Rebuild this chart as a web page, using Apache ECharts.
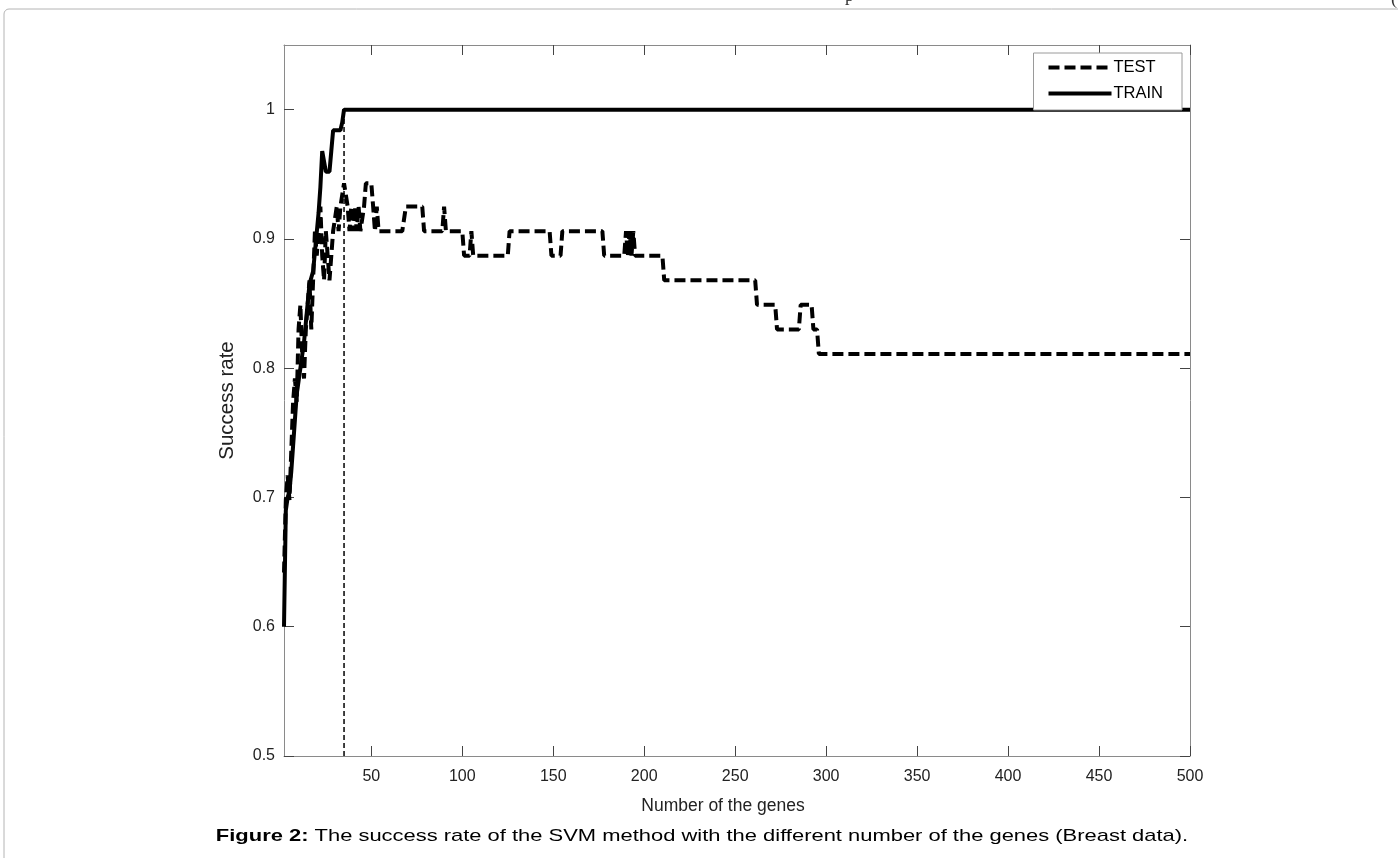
<!DOCTYPE html>
<html>
<head>
<meta charset="utf-8">
<script src="https://cdn.jsdelivr.net/npm/echarts@6/dist/echarts.min.js"></script>
<style>
html, body { margin: 0; padding: 0; background: #fff; }
#main { width: 1398px; height: 858px; }
</style>
</head>
<body>
<div id="main"></div>
<script>
// axis ticks
var xTicks = [50, 100, 150, 200, 250, 300, 350, 400, 450, 500];
var yTicks = [0.5, 0.6, 0.7, 0.8, 0.9, 1];

// TEST success rate (number of genes, rate)
var testPts = [
	[2, 0.642], [3, 0.698], [4, 0.717], [5, 0.698], [6, 0.736], [7, 0.774], [8, 0.792], [9, 0.774],
	[10, 0.830], [11, 0.849], [12, 0.811], [13, 0.792], [14, 0.830], [15, 0.849], [16, 0.868], [17, 0.830],
	[18, 0.868], [19, 0.906], [20, 0.887], [21, 0.906], [22, 0.925], [23, 0.887], [24, 0.868], [25, 0.906],
	[26, 0.887], [27, 0.868], [28, 0.887], [29, 0.906], [30, 0.906], [31, 0.925], [32, 0.906], [33, 0.925],
	[34, 0.925], [35, 0.943], [36, 0.943], [37, 0.925], [38, 0.906], [39, 0.925], [40, 0.906], [41, 0.925],
	[42, 0.906], [43, 0.925], [44, 0.906], [45, 0.906], [46, 0.925], [47, 0.943], [50, 0.943], [51, 0.925],
	[52, 0.906], [53, 0.925], [54, 0.906], [67, 0.906], [69, 0.925], [78, 0.925], [79, 0.906], [89, 0.906],
	[90, 0.925], [91, 0.906], [100, 0.906], [101, 0.887], [104, 0.887], [105, 0.906], [106, 0.887], [125, 0.887],
	[126, 0.906], [148, 0.906], [149, 0.887], [154, 0.887], [155, 0.906], [177, 0.906], [178, 0.887], [189, 0.887],
	[190, 0.906], [191, 0.887], [192, 0.906], [193, 0.887], [194, 0.906], [195, 0.887], [210, 0.887], [211, 0.868],
	[261, 0.868], [262, 0.849], [272, 0.849], [273, 0.830], [285, 0.830], [286, 0.849], [292, 0.849], [293, 0.830],
	[295, 0.830], [296, 0.811], [500, 0.811]
];

// TRAIN success rate
var trainPts = [
	[2, 0.600], [3, 0.690], [4, 0.700], [5, 0.705], [6, 0.720], [7, 0.740], [8, 0.760], [9, 0.780],
	[10, 0.790], [11, 0.800], [12, 0.810], [13, 0.820], [14, 0.835], [15, 0.850], [16, 0.865], [17, 0.870],
	[18, 0.875], [19, 0.890], [20, 0.905], [21, 0.920], [22, 0.940], [23, 0.968], [24, 0.968], [25, 0.952],
	[26, 0.952], [27, 0.952], [28, 0.968], [29, 0.984], [33, 0.984], [34, 0.990], [35, 1.000], [500, 1.000]
];

// marker where TRAIN first reaches 1
var cutLine = [[35, 0.5], [35, 1]];

var fontName = 'Liberation Sans';
var axisGray = '#8a8a8a';

var chart = echarts.init(document.getElementById('main'));
var option = {
	backgroundColor: '#fff',
	animation: false,
	graphic: [
		{
			// page frame
			type: 'rect',
			shape: { x: 4, y: 9, width: 1420, height: 900, r: 5 },
			style: { fill: null, stroke: '#b4b4b4', lineWidth: 1 },
			silent: true
		},
		{
			type: 'text',
			x: 845, y: -13,
			style: { text: 'p', font: '18px "Liberation Serif"', fill: '#333' },
			silent: true
		},
		{
			type: 'text',
			x: 1391, y: -10,
			style: { text: '(', font: '18px "Liberation Serif"', fill: '#333' },
			silent: true
		},
		{
			// caption
			type: 'text',
			x: 702, y: 836,
			scaleX: 1.29,
			style: {
				text: '{b|Figure 2:} The success rate of the SVM method with the different number of the genes (Breast data).',
				align: 'center',
				verticalAlign: 'middle',
				font: '17px "Liberation Sans"',
				fill: '#000',
				rich: {
					b: { font: 'bold 17px "Liberation Sans"', fill: '#000' }
				}
			},
			silent: true
		}
	],
	legend: {
		data: ['TEST', 'TRAIN'],
		orient: 'vertical',
		right: 216,
		top: 53,
		itemWidth: 63,
		itemHeight: 14,
		itemGap: 9,
		padding: [6, 19, 8, 13],
		backgroundColor: '#fff',
		borderColor: '#9a9a9a',
		borderWidth: 1,
		borderRadius: 0,
		itemStyle: { opacity: 0 },
		lineStyle: { width: 4 },
		textStyle: { fontFamily: fontName, fontSize: 16.5, lineHeight: 14, color: '#000', padding: [0, 0, 0, -3] }
	},
	grid: { left: 284, right: 208, top: 45, bottom: 102, containLabel: false },
	xAxis: [
		{
			type: 'value',
			min: 2,
			max: 500,
			name: 'Number of the genes',
			nameLocation: 'middle',
			nameGap: 41,
			nameTextStyle: { fontFamily: fontName, fontSize: 17.5, color: '#222', padding: [0, 28, 0, 0] },
			axisLine: { show: true, lineStyle: { color: axisGray, width: 1 } },
			axisTick: { show: true, inside: true, length: 10, customValues: xTicks, lineStyle: { color: '#444' } },
			axisLabel: { customValues: xTicks, margin: 13, fontFamily: fontName, fontSize: 16, color: '#222' },
			splitLine: { show: false }
		},
		{
			type: 'value',
			position: 'top',
			min: 2,
			max: 500,
			axisLine: { show: true, lineStyle: { color: axisGray, width: 1 } },
			axisTick: { show: true, inside: true, length: 10, customValues: xTicks, lineStyle: { color: '#444' } },
			axisLabel: { show: false },
			splitLine: { show: false }
		}
	],
	yAxis: [
		{
			type: 'value',
			min: 0.5,
			max: 1.05,
			name: 'Success rate',
			nameLocation: 'middle',
			nameGap: 46,
			nameTextStyle: { fontFamily: fontName, fontSize: 20.5, color: '#222' },
			axisLine: { show: true, lineStyle: { color: axisGray, width: 1 } },
			axisTick: { show: true, inside: true, length: 10, customValues: yTicks, lineStyle: { color: '#444' } },
			axisLabel: { customValues: yTicks, margin: 9, fontFamily: fontName, fontSize: 16, color: '#222' },
			splitLine: { show: false }
		},
		{
			type: 'value',
			position: 'right',
			min: 0.5,
			max: 1.05,
			axisLine: { show: true, lineStyle: { color: axisGray, width: 1 } },
			axisTick: { show: true, inside: true, length: 10, customValues: yTicks, lineStyle: { color: '#444' } },
			axisLabel: { show: false },
			splitLine: { show: false }
		}
	],
	series: [
		{
			name: 'cut',
			type: 'line',
			data: cutLine,
			symbol: 'none',
			silent: true,
			lineStyle: { color: '#000', width: 1.5, type: [5, 3] }
		},
		{
			name: 'TEST',
			type: 'line',
			data: testPts,
			symbol: 'none',
			lineStyle: { color: '#000', width: 4, type: [11, 5] },
			itemStyle: { color: '#000' }
		},
		{
			name: 'TRAIN',
			type: 'line',
			data: trainPts,
			symbol: 'none',
			lineStyle: { color: '#000', width: 4 },
			itemStyle: { color: '#000' }
		}
	]
};
chart.setOption(option);
</script>
</body>
</html>
